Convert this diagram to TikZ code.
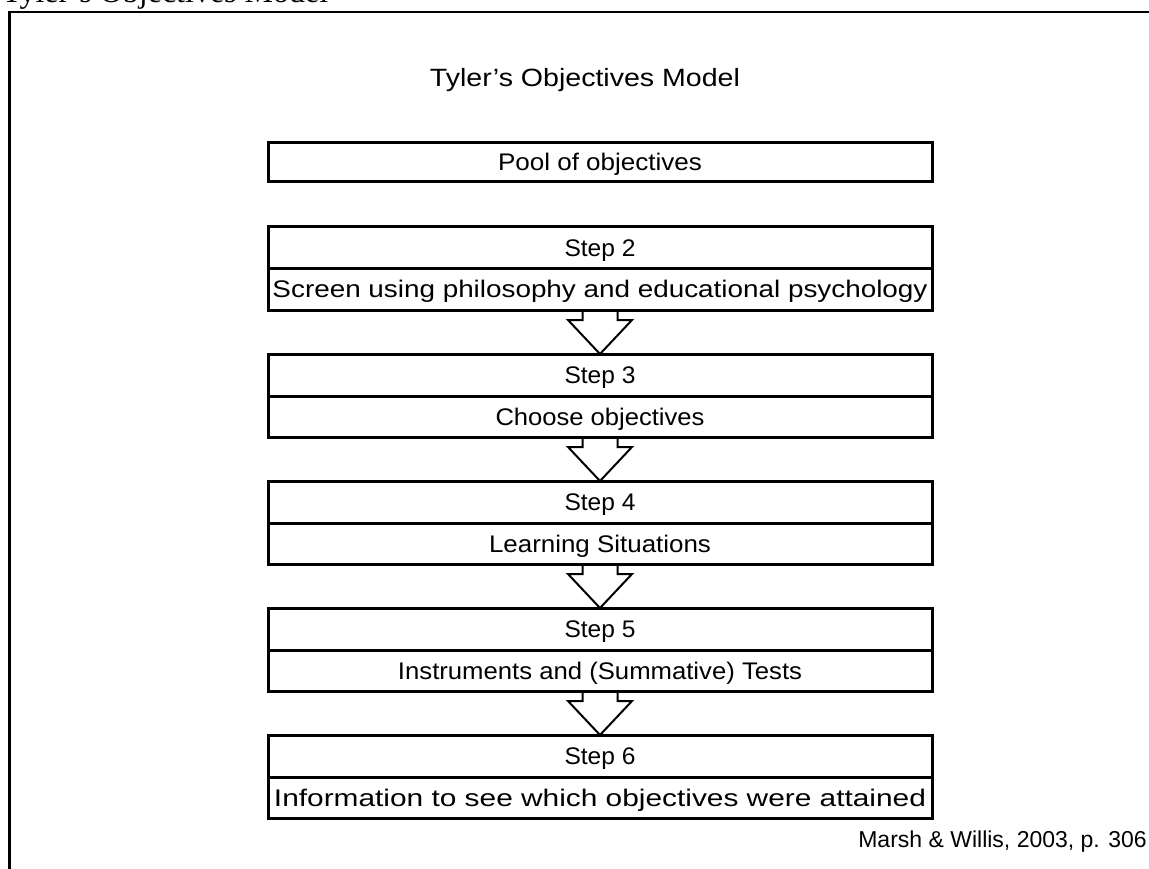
\documentclass[tikz,border=0pt]{standalone}
\usepackage{graphicx}
\usepackage{fontspec}
\setmainfont{Liberation Sans}
\newfontfamily\captionserif{Liberation Serif}
\usetikzlibrary{calc}
% set a label to a given width, keeping its height
\newcommand\fitw[2]{\resizebox{#1pt}{\height}{#2}}
\begin{document}
\begin{tikzpicture}[x=1pt,y=-1pt,
  boxrow/.style={draw=black, line width=3pt, outer sep=0pt, inner sep=0pt,
    minimum width=664pt, text height=17pt, text depth=0pt,
    font=\fontsize{24}{28}\selectfont},
  headrow/.style={boxrow, minimum height=42pt},
  bodyrow/.style={boxrow, minimum height=41pt},
  poolrow/.style={boxrow, minimum height=39pt},
  blockarrow/.style={draw=black, line width=2pt, line join=miter},
  frameline/.style={line width=2.7pt}]
\useasboundingbox (0,0) rectangle (1149,869);
\clip (0,0) rectangle (1149,869);

% caption above the frame
\node[anchor=base west, inner sep=0pt, font=\captionserif\fontsize{32}{36}\selectfont]
  (caption) at (2,3) {Tyler’s Objectives Model};

% frame: top and left rules
\coordinate (fcorner) at (9.7,12);
\coordinate (ftop) at (1152,12);
\coordinate (fbottom) at (9.7,872);
\draw[frameline] (ftop) -- (fcorner) -- (fbottom);

% title
\node[anchor=base, inner sep=0pt, font=\fontsize{25}{30}\selectfont]
  (title) at (585,87) {\fitw{310}{Tyler’s Objectives Model}};

% pool of objectives
\node[poolrow] (pool) at (600,162.5) {\fitw{204}{Pool of objectives}};

% steps: header row and body row
\node[headrow] (h2) at (600,248) {\fitw{71}{Step 2}};
\node[bodyrow] (b2) at (600,289.5) {\fitw{655}{Screen using philosophy and educational psychology}};
\node[headrow] (h3) at (600,375) {\fitw{71}{Step 3}};
\node[bodyrow] (b3) at (600,416.5) {\fitw{209}{Choose objectives}};
\node[headrow] (h4) at (600,502) {\fitw{71}{Step 4}};
\node[bodyrow] (b4) at (600,543.5) {\fitw{222}{Learning Situations}};
\node[headrow] (h5) at (600,629) {\fitw{71}{Step 5}};
\node[bodyrow] (b5) at (600,670.5) {\fitw{404}{Instruments and (Summative) Tests}};
\node[headrow] (h6) at (600,756) {\fitw{71}{Step 6}};
\node[bodyrow] (b6) at (600,797.5) {\fitw{652}{Information to see which objectives were attained}};

% block arrows between steps
\foreach \a/\b in {b2/h3, b3/h4, b4/h5, b5/h6}{
  \draw[blockarrow] ($(\a.south)+(-17.5,0)$) -- ++(0,10) -- ++(-14.5,0)
    -- (\b.north) -- ($(\a.south)+(32,10)$) -- ++(-14.5,0) -- ++(0,-10);
}

% source
\node[anchor=base east, inner sep=0pt, font=\fontsize{23}{28}\selectfont]
  (source) at (1147,847) {Marsh \& Willis, 2003, p. 306};
\end{tikzpicture}
\end{document}
